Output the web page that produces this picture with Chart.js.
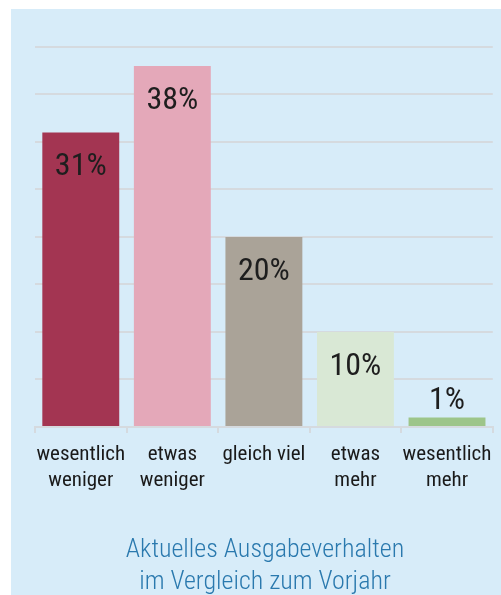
<!DOCTYPE html>
<html>
<head>
<meta charset="utf-8">
<script src="https://cdn.jsdelivr.net/npm/chart.js@4"></script>
<style>
  body { margin: 0; background: #fff; }
  .panel { position: absolute; left: 11px; top: 9px; width: 490px; height: 586px; background: #d7ecf9; }
</style>
</head>
<body>
<div class="panel"><canvas id="myChart" width="490" height="586"></canvas></div>
<script>
// data
const categories = [["wesentlich", "weniger"], ["etwas", "weniger"], "gleich viel", ["etwas", "mehr"], ["wesentlich", "mehr"]];
const shares = [31, 38, 20, 10, 1];
const barColors = ["#a33552", "#e4a8b9", "#aaa398", "#d9e8d5", "#9dc58a"];
const titleLines = ["Aktuelles Ausgabeverhalten", "im Vergleich zum Vorjahr"];

const fontFamily = "'Roboto Condensed', Roboto, sans-serif";

// value labels inside the bar top, or above when the bar is too short
const valueLabels = {
  id: "valueLabels",
  afterDatasetsDraw(chart) {
    const ctx = chart.ctx;
    const meta = chart.getDatasetMeta(0);
    ctx.save();
    ctx.font = "32px " + fontFamily;
    ctx.fillStyle = "#1e1e1e";
    ctx.textAlign = "center";
    ctx.textBaseline = "alphabetic";
    meta.data.forEach(function (bar, i) {
      let y = bar.base - bar.y > 50 ? bar.y + 43 : bar.y - 8;
      ctx.fillText(shares[i] + "%", bar.x, y);
    });
    ctx.restore();
  }
};

new Chart("myChart", {
  type: "bar",
  data: {
    labels: categories,
    datasets: [{
      data: shares,
      backgroundColor: barColors,
      barPercentage: 0.84,
      categoryPercentage: 1.0
    }]
  },
  options: {
    responsive: false,
    animation: false,
    layout: { padding: { left: 24, right: 6, top: 38, bottom: 0 } },
    plugins: {
      legend: { display: false },
      tooltip: { enabled: false },
      title: {
        display: true,
        position: "bottom",
        text: titleLines,
        color: "#2a79ae",
        font: { family: fontFamily, size: 26, weight: "300", lineHeight: 1.23 },
        padding: { top: 31, bottom: -3 }
      }
    },
    scales: {
      y: {
        min: 0,
        max: 40,
        ticks: { display: false, stepSize: 5 },
        border: { display: false },
        grid: { color: "#d5dadf", lineWidth: 2, drawTicks: false }
      },
      x: {
        border: { display: true, color: "#d5dadf", width: 2 },
        grid: { drawOnChartArea: false, drawTicks: true, tickLength: 6, color: "#d5dadf", lineWidth: 2 },
        ticks: {
          color: "#1a1a1a",
          padding: 9,
          maxRotation: 0,
          font: { family: fontFamily, size: 21, lineHeight: 1.24 }
        }
      }
    }
  },
  plugins: [valueLabels]
});
</script>
</body>
</html>
